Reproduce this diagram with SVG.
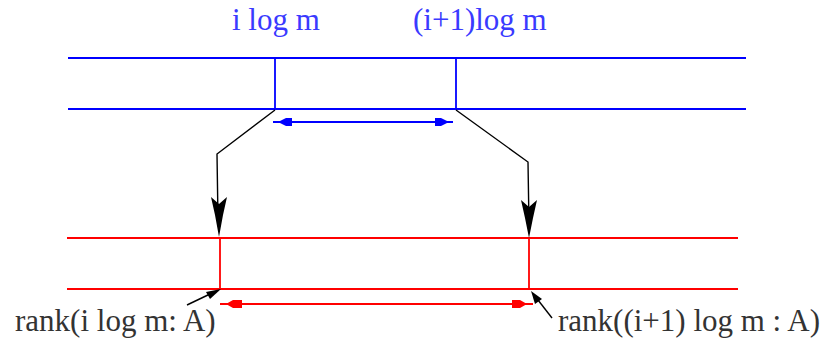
<svg xmlns="http://www.w3.org/2000/svg" width="824" height="342" viewBox="0 0 824 342">
<style>
.blue{stroke:#0000ff;stroke-width:1.8;fill:none}
.red{stroke:#ff0000;stroke-width:1.8;fill:none}
.blk{stroke:#000;stroke-width:1.4;fill:none}
.bfill{fill:#0000ff}
.rfill{fill:#ff0000}
.kfill{fill:#000}
.lblb{font-family:"Liberation Serif",serif;font-size:31px;fill:#3a3aff}
.lblk{font-family:"Liberation Serif",serif;font-size:31px;fill:#333}
</style>
<rect width="824" height="342" fill="#fff"/>
<g id="top-array">
<line class="blue" x1="68" y1="58" x2="746" y2="58"/>
<line class="blue" x1="68" y1="109" x2="746" y2="109"/>
<line class="blue" x1="275" y1="58" x2="275" y2="109"/>
<line class="blue" x1="456" y1="58" x2="456" y2="109"/>
<text class="lblb" x="232" y="30">i log m</text>
<text class="lblb" x="413" y="30">(i+1)log m</text>
</g>
<g id="bottom-array">
<line class="red" x1="67" y1="238" x2="738" y2="238"/>
<line class="red" x1="67" y1="289" x2="738" y2="289"/>
<line class="red" x1="220" y1="238" x2="220" y2="289"/>
<line class="red" x1="529" y1="238" x2="529" y2="289"/>
<text class="lblk" x="15" y="331">rank(i log m: A)</text>
<text class="lblk" x="558" y="331">rank((i+1) log m : A)</text>
</g>
<g id="connectors">
<line class="blue" x1="273" y1="122" x2="453" y2="122"/>
<polygon class="bfill" points="278,122 286,118 292,118 292,126 286,126"/>
<polygon class="bfill" points="449,122 441,118 435,118 435,126 441,126"/>
<line class="red" x1="220" y1="304" x2="533" y2="304"/>
<polygon class="rfill" points="226,304 233,300 242,300 242,308 233,308"/>
<polygon class="rfill" points="527,304 520,300 512,300 512,308 520,308"/>
<polyline class="blk" points="275,110 217,154 218,220"/>
<polygon class="kfill" points="219,237 215,215 211,197 219,204 227,197 223,215"/>
<polyline class="blk" points="456,110 528,162 529,225"/>
<polygon class="kfill" points="529,238 525,218 521,200 529,207 537,200 533,218"/>
<line class="blk" x1="187" y1="305" x2="210" y2="294"/>
<polygon class="kfill" points="221,289 210,299 206,292"/>
<line class="blk" x1="552" y1="318" x2="538" y2="300"/>
<polygon class="kfill" points="531,291 542,299 535,304"/>
</g>
</svg>
